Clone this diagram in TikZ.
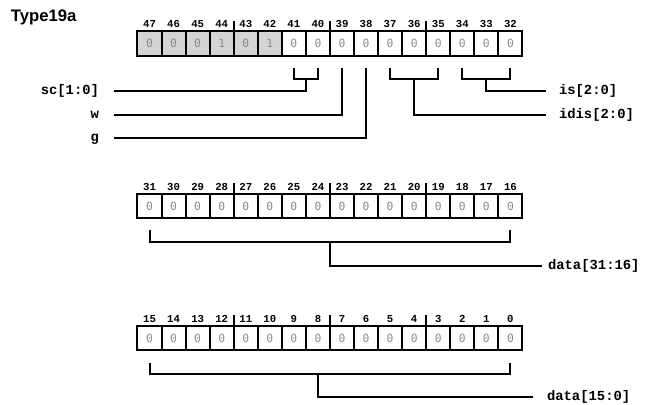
\documentclass[tikz,border=0pt]{standalone}
\usepackage{fontspec}
\setmainfont{Liberation Sans}
\setsansfont{Liberation Sans}
\setmonofont{Liberation Mono}
\newfontfamily\valfont{DejaVu Sans Mono}
\usetikzlibrary{calc}
\begin{document}
\begin{tikzpicture}[x=0.75pt,y=-0.75pt,line width=1.5pt,
  cell/.style={draw,minimum width=18.05pt,minimum height=18.3pt,inner sep=0pt,outer sep=0pt,
    font=\valfont\fontsize{8.5}{9}\selectfont,text=black!45,line width=1.5pt},
  gcell/.style={cell,fill=black!17},
  bitnum/.style={font=\ttfamily\bfseries\fontsize{8}{9}\selectfont,inner sep=0pt,anchor=base},
  sig/.style={font=\ttfamily\bfseries\fontsize{10.4}{12}\selectfont,inner sep=0pt},
  wire/.style={line width=1.5pt}]
\useasboundingbox (0,0) rectangle (655,404);

\node[font=\sffamily\bfseries\fontsize{12.5}{14}\selectfont,anchor=west,inner sep=0pt] (title) at (10,17) {Type19a};

% row 1: bits 47..32
\foreach \v [count=\i from 0] in {0,0,0,1,0,1,0,0,0,0,0,0,0,0,0,0} {
  \pgfmathtruncatemacro\b{47-\i}
  \ifnum\i<6 \def\st{gcell}\else\def\st{cell}\fi
  \node[\st] (b\b) at ({137.5+(\i+0.5)*24.06},43.3) {\v};
  \node[bitnum] (n\b) at ({137.5+(\i+0.5)*24.06},27.8) {\b};
}
% row 2: bits 31..16
\foreach \v [count=\i from 0] in {0,0,0,0,0,0,0,0,0,0,0,0,0,0,0,0} {
  \pgfmathtruncatemacro\b{31-\i}
  \node[cell] (b\b) at ({137.5+(\i+0.5)*24.06},206) {\v};
  \node[bitnum] (n\b) at ({137.5+(\i+0.5)*24.06},190.3) {\b};
}
% row 3: bits 15..0
\foreach \v [count=\i from 0] in {0,0,0,0,0,0,0,0,0,0,0,0,0,0,0,0} {
  \pgfmathtruncatemacro\b{15-\i}
  \node[cell] (b\b) at ({137.5+(\i+0.5)*24.06},338) {\v};
  \node[bitnum] (n\b) at ({137.5+(\i+0.5)*24.06},322.3) {\b};
}
% nibble ticks
\foreach \b in {44,40,36,28,24,20,12,8,4}
  \draw[wire] (b\b.north east) -- ++(0,-10.5);

% signal labels
\node[sig,anchor=mid east] (lsc) at (100,91) {sc[1:0]};
\node[sig,anchor=mid east] (lw) at (100,115.3) {w};
\node[sig,anchor=mid east] (lg) at (100,138.3) {g};
\node[sig,anchor=mid west] (lis) at (558,91) {is[2:0]};
\node[sig,anchor=mid west] (lidis) at (558,115.3) {idis[2:0]};
\node[sig,anchor=mid west] (ld1) at (547,266) {data[31:16]};
\node[sig,anchor=mid west] (ld0) at (546,397.3) {data[15:0]};

% sc[1:0]
\draw[wire] ($(b41.south)+(0,12.3)$) -- ($(b41.south)+(0,23.6)$) -| ($(b40.south)+(0,12.3)$);
\draw[wire] ($(b41.south)!0.5!(b40.south)+(0,23.6)$) |- ($(lsc.mid east)+(14,0)$);
% w, g
\draw[wire] ($(lw.mid east)+(14,0)$) -| ($(b39.south)+(0,12.3)$);
\draw[wire] ($(lg.mid east)+(14,0)$) -| ($(b38.south)+(0,12.3)$);
% idis[2:0]
\draw[wire] ($(b37.south)+(0,12.3)$) -- ($(b37.south)+(0,23.6)$) -| ($(b35.south)+(0,12.3)$);
\draw[wire] ($(b36.south)+(0,23.6)$) |- ($(lidis.mid west)+(-12.3,0)$);
% is[2:0]
\draw[wire] ($(b34.south)+(0,12.3)$) -- ($(b34.south)+(0,23.6)$) -| ($(b32.south)+(0,12.3)$);
\draw[wire] ($(b33.south)+(0,23.6)$) |- ($(lis.mid west)+(-12.3,0)$);
% data[31:16]
\draw[wire] ($(b31.south)+(0,12)$) -- ($(b31.south)+(0,23.7)$) -| ($(b16.south)+(0,12)$);
\draw[wire] ($(b24.south east)+(0,23.7)$) |- ($(ld1.mid west)+(-5.5,0)$);
% data[15:0]
\draw[wire] ($(b15.south)+(0,12.7)$) -- ($(b15.south)+(0,24)$) -| ($(b0.south)+(0,12.7)$);
\draw[wire] ($(b8.south)+(0,24)$) |- ($(ld0.mid west)+(-13,0)$);
\end{tikzpicture}
\end{document}
